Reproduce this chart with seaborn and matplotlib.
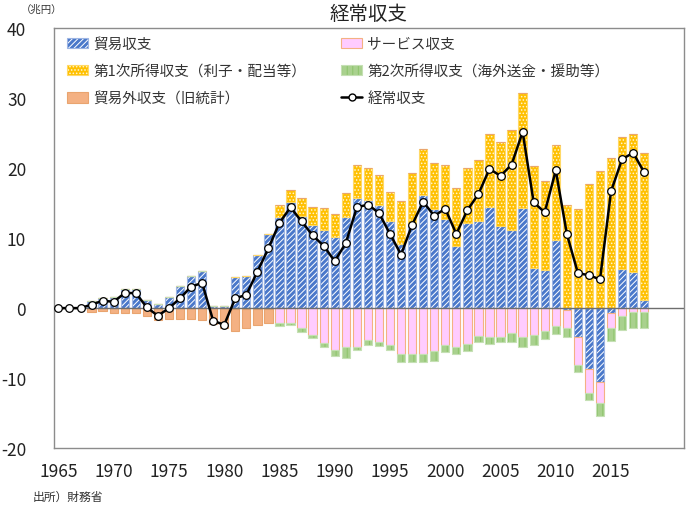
import numpy as np
import pandas as pd
import seaborn as sns
import matplotlib.pyplot as plt
import matplotlib.colors as mcolors
from matplotlib.patches import Patch
from matplotlib.lines import Line2D

# 兆円, 1965-2018 (1965-1984: 旧統計)
years = list(range(1965, 2019))
trade = [0, 0, 0, 0.96, 1.39, 1.53, 2.8, 2.8, 1.15, 0.53,
         1.6, 3.1, 4.6, 5.26, 0.35, 0.35, 4.5, 4.6, 7.6, 10.6,
         13.0, 15.2, 13.2, 11.9, 11.2, 10.1, 13.0, 15.8, 15.5, 14.8,
         12.4, 9.1, 12.05, 16.1, 14.2, 12.7, 8.9, 12.2, 12.5, 14.5,
         11.8, 11.1, 14.3, 5.8, 5.45, 9.7, -0.3, -4.2, -8.75, -10.5,
         -0.7, 5.6, 5.1, 1.2]
services = [0] * 20 + [
    -2.15, -2.06, -2.8, -3.8, -5.0, -6.0, -5.6, -5.5, -4.6, -4.8,
    -5.3, -6.6, -6.5, -6.5, -6.2, -5.25, -5.5, -5.2, -4.0, -4.1,
    -4.1, -3.6, -4.2, -3.9, -3.25, -2.6, -2.6, -3.9, -3.45, -3.0,
    -2.1, -1.1, -0.6, -0.6]
primary = [0] * 20 + [
    1.7, 1.7, 2.5, 2.6, 3.1, 3.4, 3.5, 4.6, 4.6, 4.2,
    4.2, 6.2, 7.25, 6.7, 6.6, 7.8, 8.3, 7.8, 8.7, 10.4,
    12.0, 14.3, 16.5, 14.5, 12.75, 13.6, 14.8, 14.2, 17.8, 19.6,
    21.5, 18.9, 19.8, 21.0]
secondary = [0] * 16 + [-0.2, -0.2, -0.2, -0.2] + [
    -0.35, -0.34, -0.55, -0.5, -0.5, -0.8, -1.6, -0.5, -0.7, -0.6,
    -0.7, -1.1, -1.2, -1.2, -1.4, -1.0, -1.1, -1.0, -0.9, -1.0,
    -0.7, -1.3, -1.4, -1.4, -1.2, -1.1, -1.3, -1.0, -1.0, -1.9,
    -1.9, -2.1, -2.2, -2.2]
invisible = [0, 0, 0, -0.53, -0.48, -0.72, -0.67, -0.67, -1.1, -1.77,
             -1.6, -1.58, -1.58, -1.67, -2.3, -2.8, -3.05, -2.6, -2.2, -1.95] + [0] * 34
current = [0, 0, 0, 0.5, 1.05, 0.9, 2.15, 2.15, 0.1, -1.1,
           0.0, 1.39, 3.06, 3.6, -1.8, -2.4, 1.39, 1.9, 5.2, 8.55,
           12.2, 14.4, 12.4, 10.4, 8.9, 6.7, 9.3, 14.4, 14.8, 13.6,
           10.6, 7.65, 11.9, 15.2, 13.2, 14.2, 10.6, 14.0, 16.3, 19.9,
           18.9, 20.5, 25.2, 15.1, 13.7, 19.7, 10.6, 5.0, 4.7, 4.1,
           16.7, 21.3, 22.2, 19.4]
year_ticks = [1965, 1970, 1975, 1980, 1985, 1990, 1995, 2000, 2005, 2010, 2015]
y_ticks = [-20, -10, 0, 10, 20, 30, 40]

sns.set_theme(style="white")
plt.rcParams['font.family'] = ['Noto Sans CJK JP', 'DejaVu Sans']
plt.rcParams['hatch.linewidth'] = 0.7

fig = plt.figure(figsize=(6.88, 5.10), dpi=100)
ax = fig.add_axes([54 / 688, 1 - 449 / 510, 630 / 688, (449 - 29.3) / 510])

# (label, values, face, hatch, hatch colour, edge)
layers = [
    ("貿易収支", trade, "#4A78CA", "//////", "white", "#9DB5E3"),
    ("サービス収支", services, "#FFCCFF", None, None, "#F4B183"),
    ("第1次所得収支（利子・配当等）", primary, "#FFC000", ".....", "#FFF6D5", "#FFD966"),
    ("第2次所得収支（海外送金・援助等）", secondary, "#A9D18E", "|||", "#8CC46A", "#C5E0B4"),
    ("貿易外収支（旧統計）", invisible, "#F4B183", None, None, "#E9A46F"),
]

pos = np.zeros(len(years))
neg = np.zeros(len(years))
handles = {}
for label, vals, face, hatch, hcol, edge in layers:
    v = np.array(vals, dtype=float)
    bottom = np.where(v >= 0, pos, neg)
    pos += np.clip(v, 0, None)
    neg += np.clip(v, None, 0)
    df = pd.DataFrame({"year": years, "value": v})
    n0 = len(ax.patches)
    sns.barplot(data=df, x="year", y="value", native_scale=True, width=0.75,
                color=face, saturation=1, errorbar=None, bottom=bottom,
                edgecolor=edge, linewidth=0.8, hatch=hatch, ax=ax, zorder=2)
    if hcol is not None:
        for p in ax.patches[n0:]:
            p._hatch_color = mcolors.to_rgba(hcol)
    h = Patch(facecolor=face, edgecolor=edge, hatch=hatch, linewidth=0.8)
    if hcol is not None:
        h._hatch_color = mcolors.to_rgba(hcol)
    handles[label] = h

ax.axhline(0, color="#6E6E6E", linewidth=1, zorder=3)

sns.lineplot(x=years, y=current, color="black", linewidth=1.8, marker="o",
             markersize=5.5, markerfacecolor="white", markeredgecolor="black",
             markeredgewidth=0.9, ax=ax, zorder=5)

ax.set_xlim(1964.6, 2021.6)
ax.set_ylim(-20, 40)
ax.set_xticks(year_ticks)
ax.set_xticklabels([str(y) for y in year_ticks])
ax.set_yticks(y_ticks)
ax.set_yticklabels([str(y) for y in y_ticks])
ax.set_xlabel("")
ax.set_ylabel("")
ax.tick_params(axis="y", length=0, pad=20, labelsize=12.5, labelcolor="#222222")
ax.tick_params(axis="x", length=0, pad=10, labelsize=12.5, labelcolor="#222222")
for s in ax.spines.values():
    s.set_color("#8C8C8C")
    s.set_linewidth(1)

line_handle = Line2D([], [], color="black", linewidth=1.8, marker="o", markersize=5,
                     markerfacecolor="white", markeredgecolor="black")
col1 = [handles["貿易収支"], handles["第1次所得収支（利子・配当等）"], handles["貿易外収支（旧統計）"]]
lab1 = ["貿易収支", "第1次所得収支（利子・配当等）", "貿易外収支（旧統計）"]
col2 = [handles["サービス収支"], handles["第2次所得収支（海外送金・援助等）"], line_handle]
lab2 = ["サービス収支", "第2次所得収支（海外送金・援助等）", "経常収支"]

leg_kw = dict(loc="upper left", bbox_transform=fig.transFigure, frameon=False,
              fontsize=10.5, handlelength=1.45, handleheight=0.75,
              handletextpad=0.35, labelspacing=0.9, borderpad=0, borderaxespad=0,
              labelcolor="#333333")
leg1 = ax.legend(col1, lab1, bbox_to_anchor=(67 / 688, 1 - 38 / 510), **leg_kw)
ax.add_artist(leg1)
ax.legend(col2, lab2, bbox_to_anchor=(341 / 688, 1 - 38 / 510), **leg_kw)

fig.text(369 / 688, 1 - 14 / 510, "経常収支", ha="center", va="center",
         fontsize=14, color="#222222")
fig.text(62 / 688, 1 - 10 / 510, "（兆円）", ha="right", va="center",
         fontsize=7.5, color="#333333")
fig.text(33 / 688, 1 - 497 / 510, "出所）財務省", ha="left", va="center",
         fontsize=8.5, color="#333333")

fig.savefig("out.png", dpi=100)
